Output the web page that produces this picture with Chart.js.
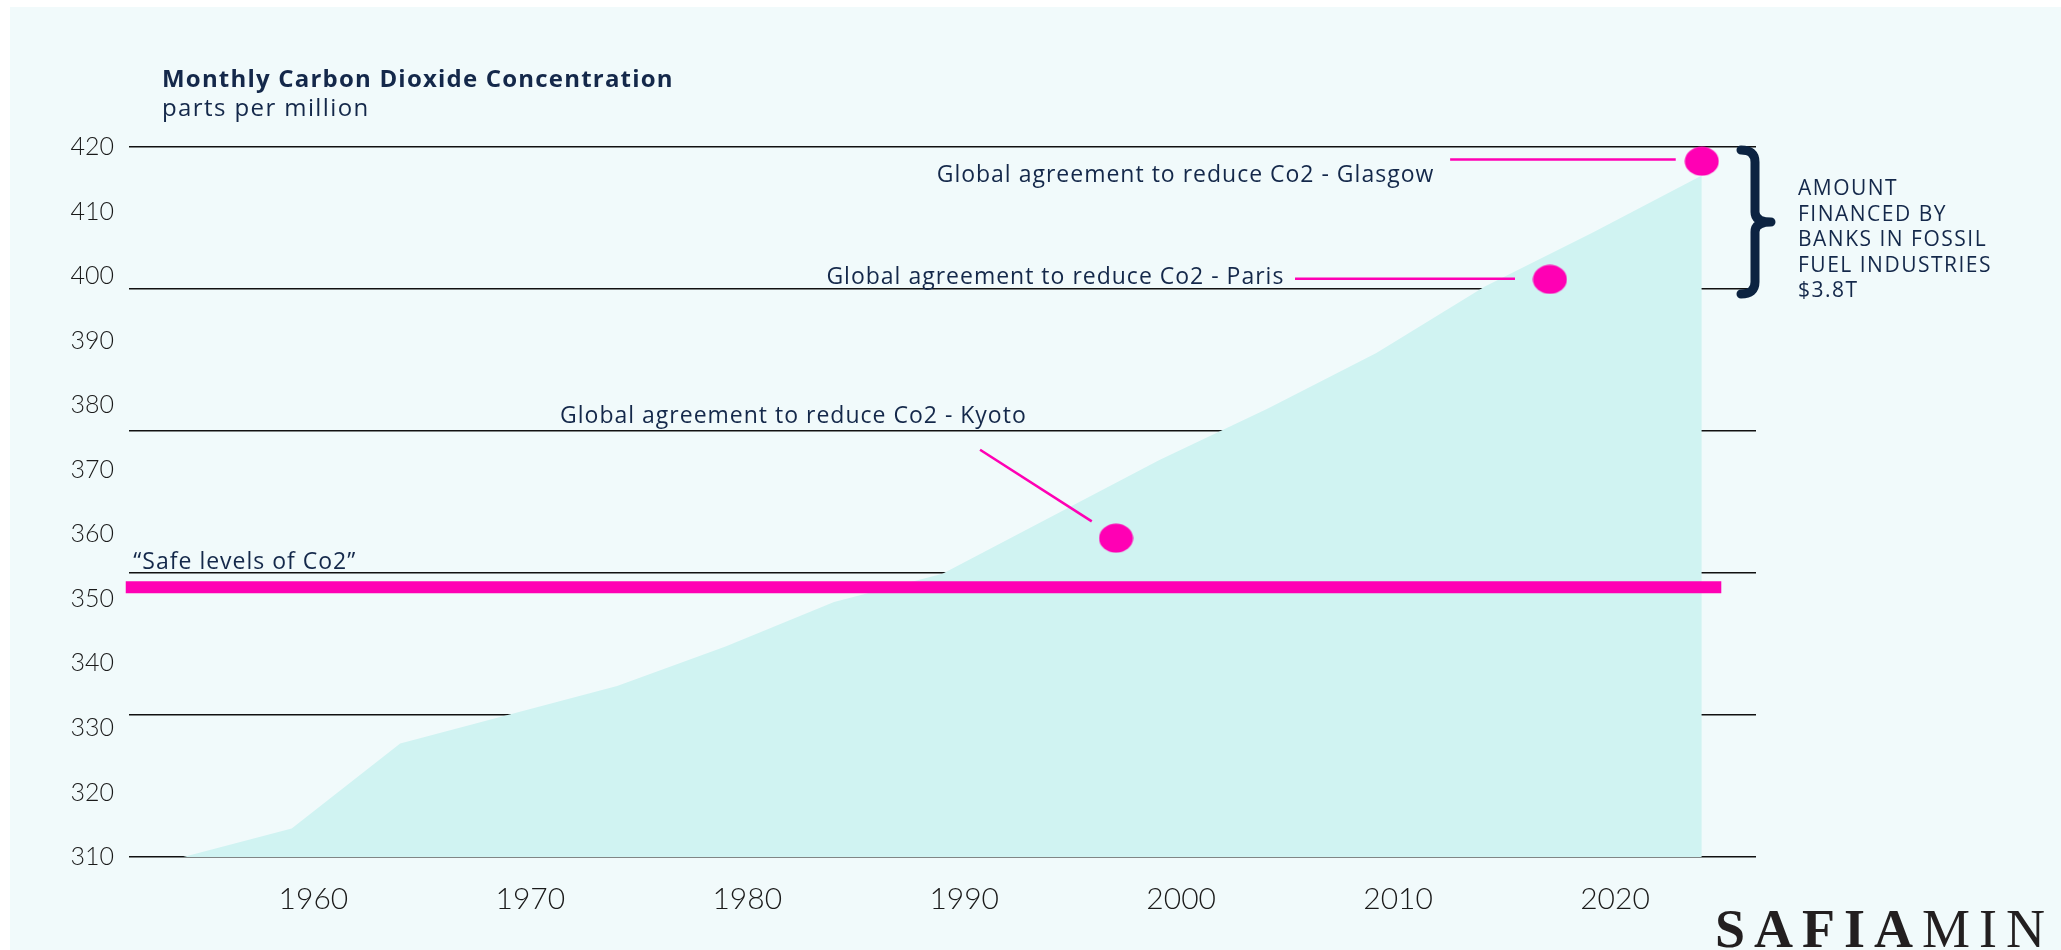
<!DOCTYPE html>
<html>
<head>
<meta charset="utf-8">
<script src="https://cdn.jsdelivr.net/npm/chart.js@4.4.1/dist/chart.umd.min.js"></script>
<style>
  html, body { margin: 0; padding: 0; background: #ffffff; }
  #wrap { width: 2061px; height: 950px; }
</style>
</head>
<body>
<div id="wrap"><canvas id="co2-chart" width="2061" height="950"></canvas></div>
<script>
// shaded area: monthly co2 (ppm), one point every few years
var years = [1954, 1959, 1964, 1974, 1979, 1984, 1989, 1999, 2004, 2009, 2014, 2019, 2024];
var ppm = [310, 314.4, 327.6, 336.5, 342.6, 349.5, 353.9, 371.5, 379.5, 388.1, 398.4, 406.8, 415.6];

// axis labels and the horizontal rules
var yearTicks = [1960, 1970, 1980, 1990, 2000, 2010, 2020];
var ppmTicks = [310, 320, 330, 340, 350, 360, 370, 380, 390, 400, 410, 420];
var ruleLevels = [310, 332, 354, 376, 398, 420];

// "safe levels" line
var safeLevel = 351.8;
var safeFrom = 1951.35;
var safeTo = 2024.9;

// agreements
var agreementNames = ['Kyoto', 'Paris', 'Glasgow'];
var agreementYears = [1997, 2017, 2024];
var agreementPpm = [359.4, 399.5, 417.8];

var PINK = '#ff00b4';
var NAVY = '#14284a';

// leader lines, from label side to the dot (in year / ppm)
var leaders = [
    [[1990.73, 373.1], [1995.88, 362.0]],
    [[2005.25, 399.6], [2015.39, 399.6]],
    [[2012.4, 418.05], [2022.8, 418.05]]
];
// label anchors (year, ppm at baseline, align)
var notes = [
    { text: 'Global agreement to reduce Co2 - Kyoto', x: 1971.37, y: 377.3, align: 'left' },
    { text: 'Global agreement to reduce Co2 - Paris', x: 2004.76, y: 398.7, align: 'right' },
    { text: 'Global agreement to reduce Co2 - Glasgow', x: 2011.67, y: 414.6, align: 'right' },
    { text: '\u201cSafe levels of Co2\u201d', x: 1951.7, y: 354.55, align: 'left' }
];

function ellipseDot(w, h, color) {
    var c = document.createElement('canvas');
    c.width = w;
    c.height = h;
    var g = c.getContext('2d');
    g.fillStyle = color;
    g.beginPath();
    g.ellipse(w / 2, h / 2, w / 2 - 0.5, h / 2 - 0.5, 0, 0, Math.PI * 2);
    g.fill();
    return c;
}

var dot = ellipseDot(35, 30, PINK);

var datasets = [
    {
        label: 'CO2',
        data: years.map(function (y, i) { return { x: y, y: ppm[i] }; }),
        fill: 'start',
        backgroundColor: '#d0f3f2',
        borderColor: 'rgba(0,0,0,0)',
        borderWidth: 0,
        pointRadius: 0,
        tension: 0,
        order: 5
    },
    {
        label: 'Safe',
        data: [{ x: safeFrom, y: safeLevel }, { x: safeTo, y: safeLevel }],
        borderColor: PINK,
        borderWidth: 12,
        borderCapStyle: 'butt',
        pointRadius: 0,
        clip: false,
        order: 4
    }
];

leaders.forEach(function (l, i) {
    datasets.push({
        label: 'leader ' + agreementNames[i],
        data: l.map(function (p) { return { x: p[0], y: p[1] }; }),
        borderColor: PINK,
        borderWidth: 2.5,
        pointRadius: 0,
        clip: false,
        order: 2
    });
});

datasets.push({
    label: 'Agreements',
    data: agreementYears.map(function (y, i) { return { x: y, y: agreementPpm[i] }; }),
    showLine: false,
    pointStyle: dot,
    pointRadius: 17,
    clip: false,
    order: 1
});

var backdrop = {
    id: 'backdrop',
    beforeDraw: function (chart) {
        var ctx = chart.ctx;
        ctx.save();
        ctx.fillStyle = '#ffffff';
        ctx.fillRect(0, 0, chart.width, chart.height);
        ctx.fillStyle = '#f1fafb';
        ctx.fillRect(10, 7, chart.width - 10, chart.height - 7);
        ctx.restore();
    }
};

var overlay = {
    id: 'overlay',
    afterDatasetsDraw: function (chart) {
        var ctx = chart.ctx;
        var xs = chart.scales.x, ys = chart.scales.y;
        var area = chart.chartArea;
        ctx.save();

        // heading
        ctx.fillStyle = NAVY;
        ctx.textAlign = 'left';
        ctx.textBaseline = 'alphabetic';
        ctx.letterSpacing = '1.2px';
        ctx.font = 'bold 24px "Open Sans"';
        ctx.fillText('Monthly Carbon Dioxide Concentration', 162, 87);
        ctx.letterSpacing = '1.4px';
        ctx.font = '24px "Open Sans"';
        ctx.fillText('parts per million', 162, 116);

        // annotations
        ctx.letterSpacing = '1px';
        ctx.font = '23px "Open Sans"';
        notes.forEach(function (n) {
            ctx.textAlign = n.align;
            ctx.fillText(n.text, xs.getPixelForValue(n.x), ys.getPixelForValue(n.y));
        });

        // brace
        var bx = area.right - 1;
        var top = ys.getPixelForValue(420) + 3;
        var bot = ys.getPixelForValue(398) + 5;
        var mid = (top + bot) / 2;
        ctx.strokeStyle = '#0c2341';
        ctx.lineWidth = 9;
        ctx.lineCap = 'round';
        ctx.lineJoin = 'round';
        ctx.beginPath();
        ctx.moveTo(bx - 14, top);
        ctx.quadraticCurveTo(bx, top, bx, top + 12);
        ctx.lineTo(bx, mid - 10);
        ctx.quadraticCurveTo(bx, mid, bx + 16, mid);
        ctx.quadraticCurveTo(bx, mid, bx, mid + 10);
        ctx.lineTo(bx, bot - 12);
        ctx.quadraticCurveTo(bx, bot, bx - 14, bot);
        ctx.stroke();

        // side note
        ctx.fillStyle = NAVY;
        ctx.textAlign = 'left';
        ctx.letterSpacing = '1.5px';
        ctx.font = '21px "Open Sans"';
        var side = ['AMOUNT', 'FINANCED BY', 'BANKS IN FOSSIL', 'FUEL INDUSTRIES', '$3.8T'];
        side.forEach(function (s, i) {
            ctx.fillText(s, 1798, 195 + i * 25.6);
        });

        // logo
        ctx.fillStyle = '#231f20';
        ctx.letterSpacing = '9px';
        ctx.font = 'bold 54px "Liberation Serif"';
        ctx.fillText('SAFIA', 1715, 947);
        var w = ctx.measureText('SAFIA').width;
        ctx.font = '54px "Liberation Serif"';
        ctx.fillText('MIN', 1715 + w, 947);
        ctx.restore();
    }
};

new Chart(document.getElementById('co2-chart'), {
    type: 'line',
    data: { datasets: datasets },
    options: {
        responsive: false,
        animation: false,
        devicePixelRatio: 1,
        layout: { padding: { top: 147, right: 305, left: 0, bottom: 0 } },
        plugins: {
            legend: { display: false },
            tooltip: { enabled: false }
        },
        scales: {
            x: {
                type: 'linear',
                min: 1951.5,
                max: 2026.5,
                afterBuildTicks: function (s) { s.ticks = yearTicks.map(function (v) { return { value: v }; }); },
                afterFit: function (s) { s.height = 93; },
                grid: { display: false, drawTicks: false },
                border: { display: false },
                ticks: {
                    padding: 24,
                    color: '#1a1a1a',
                    font: { family: 'Lato', size: 30, weight: '300' },
                    callback: function (v) { return String(v); }
                }
            },
            y: {
                type: 'linear',
                position: 'left',
                min: 310,
                max: 420,
                afterBuildTicks: function (s) { s.ticks = ppmTicks.map(function (v) { return { value: v }; }); },
                afterFit: function (s) { s.width = 129; },
                grid: { display: false, drawTicks: false },
                border: { display: false },
                ticks: {
                    padding: 15,
                    color: '#1a1a1a',
                    font: { family: 'Lato', size: 25, weight: '300' }
                }
            },
            rules: {
                type: 'linear',
                position: 'left',
                min: 310,
                max: 420,
                afterBuildTicks: function (s) { s.ticks = ruleLevels.map(function (v) { return { value: v }; }); },
                afterFit: function (s) { s.width = 0; },
                grid: { color: '#111111', lineWidth: 1.4, drawTicks: false },
                border: { display: false },
                ticks: { display: false }
            }
        }
    },
    plugins: [backdrop, overlay]
});
</script>
</body>
</html>
